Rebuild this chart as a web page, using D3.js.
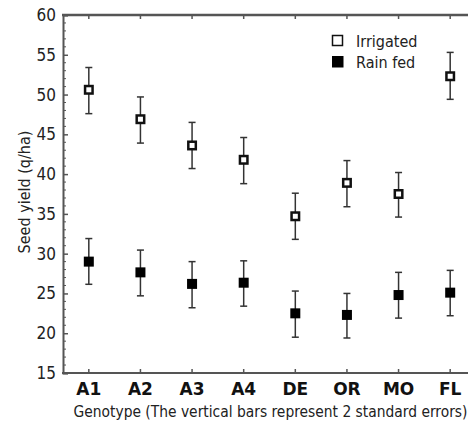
<!DOCTYPE html>
<html><head><meta charset="utf-8">
<script src="https://cdn.jsdelivr.net/npm/d3@7/dist/d3.min.js"></script>
<style>body{margin:0;background:#fff}svg{display:block}</style>
</head><body>
<svg id="c" width="468" height="423"></svg>
<script>
const genotypes = ["A1","A2","A3","A4","DE","OR","MO","FL"];
const irrigatedMean = [50.6, 46.9, 43.6, 41.8, 34.7, 38.9, 37.5, 52.3];
const irrigatedLow  = [47.6, 43.9, 40.7, 38.8, 31.8, 35.9, 34.6, 49.4];
const irrigatedHigh = [53.4, 49.7, 46.5, 44.6, 37.6, 41.7, 40.2, 55.3];
const rainfedMean = [29.0, 27.65, 26.2, 26.35, 22.5, 22.3, 24.8, 25.1];
const rainfedLow  = [26.15, 24.7, 23.2, 23.4, 19.5, 19.4, 21.9, 22.2];
const rainfedHigh = [31.9, 30.45, 29.0, 29.1, 25.3, 25.0, 27.65, 27.9];
const yTicks = [15,20,25,30,35,40,45,50,55,60];

(function(){
const svg = d3.select("#c");
const pLeft = 63, pTop = 15, pBottom = 373, pRight = 476;
const x = d3.scalePoint().domain(genotypes).range([pLeft, pRight]).padding(0.5);
const y = d3.scaleLinear().domain([15,60]).range([pBottom, pTop]);
const axisColor = "#555";
const font = "'DejaVu Sans Condensed', 'DejaVu Sans', sans-serif";
const boldFont = "'DejaVu Sans', sans-serif";

const g = svg.append("g");
d3.range(15, 61, 1).forEach(v => {
  if (v % 5 !== 0) g.append("line").attr("x1", pLeft).attr("x2", pLeft+3).attr("y1", y(v)).attr("y2", y(v)).attr("stroke", axisColor).attr("stroke-width",1);
});
const yAxis = svg.append("g").attr("transform", `translate(${pLeft},0)`)
  .call(d3.axisLeft(y).tickValues(yTicks).tickSize(-5).tickPadding(6).tickFormat(d3.format("d")));
yAxis.select(".domain").attr("stroke", axisColor).attr("stroke-width", 2);
yAxis.selectAll(".tick line").attr("stroke", axisColor).attr("stroke-width", 1.5);
yAxis.selectAll("text").attr("font-family", font).attr("font-size", 17).attr("fill", "#222").attr("dx", -1);

svg.append("line").attr("x1", pLeft-1).attr("x2", 468).attr("y1", pTop).attr("y2", pTop).attr("stroke", axisColor).attr("stroke-width", 2.5);
svg.append("line").attr("x1", pLeft-1).attr("x2", 468).attr("y1", pBottom).attr("y2", pBottom).attr("stroke", axisColor).attr("stroke-width", 2);

genotypes.forEach(d => {
  svg.append("line").attr("x1", x(d)).attr("x2", x(d)).attr("y1", pTop).attr("y2", pTop+4).attr("stroke", axisColor).attr("stroke-width", 1.5);
  svg.append("line").attr("x1", x(d)).attr("x2", x(d)).attr("y1", pBottom).attr("y2", pBottom-4).attr("stroke", axisColor).attr("stroke-width", 1.5);
});
svg.append("g").selectAll("text").data(genotypes).join("text")
  .attr("x", d => x(d)).attr("y", pBottom+22).attr("text-anchor","middle")
  .attr("font-family", boldFont).attr("font-weight","bold").attr("font-size", 17).attr("fill","#111").text(d => d);

svg.append("text").attr("x", 270.5).attr("y", 417).attr("text-anchor","middle")
  .attr("font-family", font).attr("font-size", 15.4).attr("fill","#222")
  .text("Genotype (The vertical bars represent 2 standard errors)");
svg.append("text").attr("transform","translate(30,192) rotate(-90)").attr("text-anchor","middle")
  .attr("font-family", font).attr("font-size", 16).attr("fill","#222").text("Seed yield (q/ha)");

function series(mean, low, high, filled) {
  const gg = svg.append("g");
  genotypes.forEach((d, i) => {
    const cx = x(d);
    gg.append("line").attr("x1", cx).attr("x2", cx).attr("y1", y(low[i])).attr("y2", y(high[i])).attr("stroke","#333").attr("stroke-width",1.5);
    [low[i], high[i]].forEach(v => gg.append("line").attr("x1", cx-3.5).attr("x2", cx+3.5).attr("y1", y(v)).attr("y2", y(v)).attr("stroke","#333").attr("stroke-width",1.5));
    if (filled) {
      gg.append("rect").attr("x", cx-5).attr("y", y(mean[i])-5).attr("width",10).attr("height",10).attr("fill","#000");
    } else {
      gg.append("rect").attr("x", cx-3.75).attr("y", y(mean[i])-3.75).attr("width",7.5).attr("height",7.5).attr("fill","#fff").attr("stroke","#111").attr("stroke-width",2.5);
    }
  });
}
series(irrigatedMean, irrigatedLow, irrigatedHigh, false);
series(rainfedMean, rainfedLow, rainfedHigh, true);

const lg = svg.append("g");
lg.append("rect").attr("x", 332.5).attr("y", 35.5).attr("width", 10).attr("height", 10).attr("fill","#fff").attr("stroke","#111").attr("stroke-width",1.5);
lg.append("rect").attr("x", 332).attr("y", 56).attr("width", 11.5).attr("height", 11.5).attr("fill","#000");
lg.append("text").attr("x", 356).attr("y", 47).attr("font-family", font).attr("font-size", 16).attr("fill","#222").text("Irrigated");
lg.append("text").attr("x", 356).attr("y", 68).attr("font-family", font).attr("font-size", 16).attr("fill","#222").text("Rain fed");
})();
</script>
</body></html>
